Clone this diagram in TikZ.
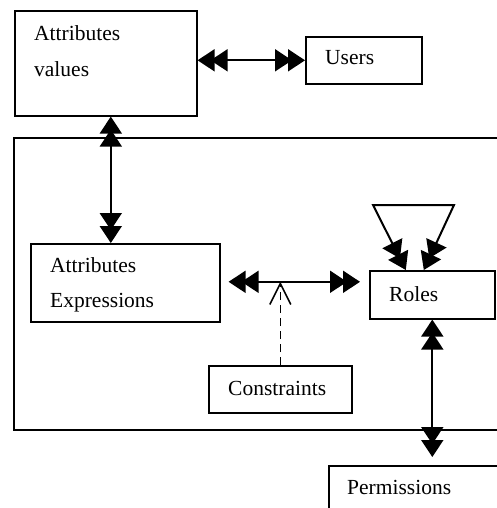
\documentclass[tikz,border=0pt]{standalone}
\usepackage{fontspec}
\setmainfont{Liberation Serif}
\usetikzlibrary{arrows.meta}
\tikzset{
  Dbl/.tip={Triangle[length=17pt,width=22pt,sep=-4pt]Triangle[length=17pt,width=22pt]},
  box/.style={draw,line width=1.6pt,inner sep=0pt,anchor=north west},
  lbl/.style={anchor=base west,inner sep=0pt,font=\fontsize{21.5}{25}\selectfont},
  conn/.style={line width=2pt,{Dbl}-{Dbl}},
}
\begin{document}
\begin{tikzpicture}[x=1pt,y=-1pt]
\clip (0,0) rectangle (497,508);
\fill[white] (0,0) rectangle (497,508);
% outer frame (open at the right)
\draw[line width=1.6pt] (500,138) -- (14,138) -- (14,430) -- (500,430);
% boxes
\node[box,minimum width=182pt,minimum height=105pt] (av) at (14,10) {};
\node[box,minimum width=116pt,minimum height=47pt] (users) at (305,36) {};
\node[box,minimum width=189pt,minimum height=78pt] (ae) at (30,243) {};
\node[box,minimum width=125pt,minimum height=48pt] (roles) at (369,270) {};
\node[box,minimum width=143pt,minimum height=47pt] (cons) at (208,365) {};
\node[box,minimum width=200pt,minimum height=80pt] (perm) at (328,465) {};
% labels
\node[lbl] (t1) at (34,41) {Attributes};
\node[lbl] (t2) at (34,77) {values};
\node[lbl] (t3) at (325,65) {Users};
\node[lbl] (t4) at (50,272) {Attributes};
\node[lbl] (t5) at (50,307) {Expressions};
\node[lbl] (t6) at (389,301) {Roles};
\node[lbl] (t7) at (228,395) {Constraints};
\node[lbl] (t8) at (347,494) {Permissions};
% connectors
\draw[conn] (av.east |- users.west) -- (users.west);
\draw[conn] ([xshift=5pt]av.south) -- ([xshift=5pt]av.south |- ae.north);
\coordinate (aer) at ([yshift=1pt]ae.east);
\draw[conn,shorten <=8pt,shorten >=9pt] (aer) -- (aer -| roles.west);
\draw[conn,shorten >=8pt] (roles.south) -- (roles.south |- perm.north);
\coordinate (lp1) at (373,205);
\coordinate (lp2) at (454,205);
\draw[conn] ([xshift=-8.5pt]roles.north) -- (lp2) -- (lp1) -- ([xshift=-26.5pt]roles.north);
\coordinate (dj) at (cons.north |- aer);
\draw[line width=1.5pt,dash pattern=on 8pt off 5pt,-{Straight Barb[length=21pt,width=21pt,line width=1.5pt]}] (cons.north) -- (dj);
\end{tikzpicture}
\end{document}
